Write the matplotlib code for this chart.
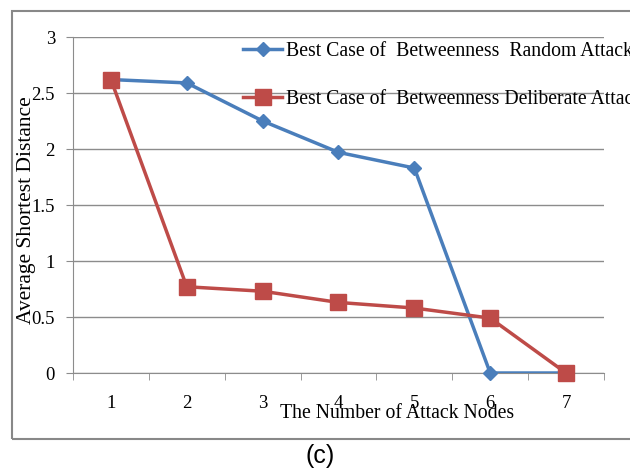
import matplotlib
matplotlib.use('Agg')
import matplotlib.pyplot as plt
import matplotlib.patches as mpatches
import numpy as np

attack_nodes = [1, 2, 3, 4, 5, 6, 7]
random_attack = [2.62, 2.59, 2.25, 1.97, 1.83, 0.0, 0.0]
deliberate_attack = [2.62, 0.77, 0.73, 0.63, 0.58, 0.49, 0.0]
labels = ['Best Case of  Betweenness  Random Attack',
          'Best Case of  Betweenness Deliberate Attack']

blue = '#4a7ebb'
red = '#be4b48'
grid_gray = '#8c8c8c'
serif = ['Liberation Serif', 'DejaVu Serif']

fig = plt.figure(figsize=(6.3, 4.74), dpi=100)

# outer chart frame (right side runs off the picture)
frame = mpatches.Rectangle((12 / 630, 35 / 474), 1.0, 428 / 474, transform=fig.transFigure,
                           fill=False, edgecolor='#888888', linewidth=1.5, clip_on=False)
fig.patches.append(frame)

ax = fig.add_axes([73 / 630, 101 / 474, 531 / 630, 336 / 474])

for vals, col in [(random_attack, blue), (deliberate_attack, red)]:
    ax.plot(attack_nodes, vals, color=col, linewidth=2.5, zorder=3)
ax.plot(attack_nodes, random_attack, color=blue, linewidth=0, marker='D', markersize=7,
        clip_on=False, zorder=4)
ax.plot(attack_nodes, deliberate_attack, color=red, linewidth=0, marker='s', markersize=11,
        clip_on=False, zorder=4)

ax.set_xlim(0.5, 7.5)
ax.set_ylim(0, 3)
ax.set_yticks(np.arange(0, 3.01, 0.5))
ax.set_yticklabels(['0', '0.5', '1', '1.5', '2', '2.5', '3'], family=serif, fontsize=13.5)
ax.set_xticks(attack_nodes)
ax.set_xticklabels([str(n) for n in attack_nodes], family=serif, fontsize=13.5)
ax.set_xticks(np.arange(0.5, 7.6, 1), minor=True)
ax.tick_params(axis='x', which='major', length=0, pad=16)
ax.tick_params(axis='x', which='minor', length=5, color=grid_gray)
ax.tick_params(axis='y', length=5, color=grid_gray, pad=8)
ax.grid(axis='y', color=grid_gray, linewidth=1)
ax.set_axisbelow(True)
for s in ['top', 'right']:
    ax.spines[s].set_visible(False)
for s in ['left', 'bottom']:
    ax.spines[s].set_color(grid_gray)

ax.set_xlabel('The Number of Attack Nodes', family=serif, fontsize=14.2)
ax.xaxis.set_label_coords((397 - 73) / 531, -(413 - 373) / 336)
ax.set_ylabel('Average Shortest Distance', family=serif, fontsize=15.5)
ax.yaxis.set_label_coords(-(73 - 27) / 531, (373 - 210) / 336)
ax.yaxis.label.set_va('center')
ax.xaxis.label.set_va('center')

handles = [plt.Line2D([], [], color=blue, linewidth=2.5, marker='D', markersize=7),
           plt.Line2D([], [], color=red, linewidth=2.5, marker='s', markersize=11)]
leg = ax.legend(handles, labels, loc='upper left', bbox_to_anchor=(0.305, 1.01), frameon=False,
                prop={'family': serif, 'size': 14.2}, labelspacing=1.5, handlelength=2.0,
                handletextpad=0.2, borderaxespad=0)
leg.set_clip_on(False)

fig.text(320 / 630, 1 - 456 / 474, '(c)', ha='center', va='center',
         family=['Liberation Sans', 'DejaVu Sans'], fontsize=18)

fig.savefig('out.png', dpi=100)
